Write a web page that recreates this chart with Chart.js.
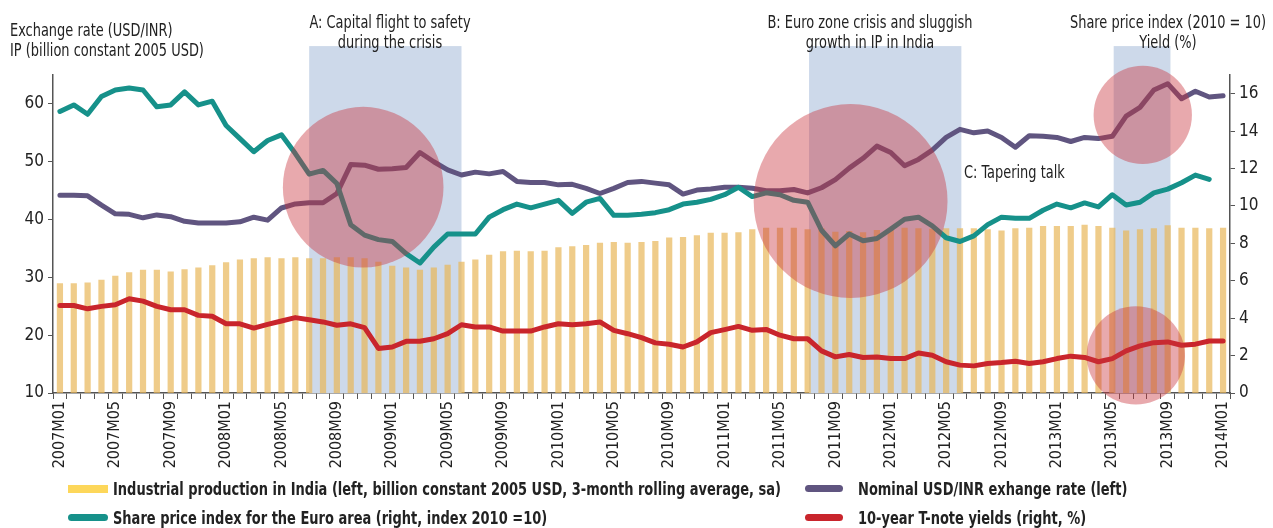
<!DOCTYPE html>
<html>
<head>
<meta charset="utf-8">
<script src="https://cdn.jsdelivr.net/npm/chart.js@4.4.1/dist/chart.umd.min.js"></script>
<style>
  body { margin: 0; background: #fff; }
  #wrap { position: relative; width: 1273px; height: 528px; }
  .txt { position: absolute; font-family: "DejaVu Sans Condensed", "Liberation Sans Narrow", sans-serif; font-size: 18px; color: #222; line-height: 20px; white-space: nowrap; transform: scaleX(0.8); transform-origin: left top; }
  .ctr { text-align: center; transform-origin: center top; }
  .leg { position: absolute; font-family: "DejaVu Sans Condensed", "Liberation Sans Narrow", sans-serif; font-size: 17px; font-weight: bold; color: #222; white-space: nowrap; line-height: 20px; transform: scaleX(0.85); transform-origin: left top; }
  .sw { position: absolute; height: 7px; border-radius: 4px; }
</style>
</head>
<body>
<div id="wrap">
  <canvas id="chart"></canvas>
  <div class="txt" style="left:10px;top:20px;">Exchange rate (USD/INR)<br>IP (billion constant 2005 USD)</div>
  <div class="txt ctr" style="left:270px;top:12px;width:240px;">A: Capital flight to safety<br>during the crisis</div>
  <div class="txt ctr" style="left:735px;top:12px;width:270px;">B: Euro zone crisis and sluggish<br>growth in IP in India</div>
  <div class="txt" style="left:964px;top:162px;">C: Tapering talk</div>
  <div class="txt ctr" style="left:1038px;top:12px;width:260px;">Share price index (2010 = 10)<br>Yield (%)</div>

  <div class="sw" style="left:68px;top:485px;width:40px;background:#FDD75A;border-radius:0;height:8px;"></div>
  <div class="leg" style="left:113px;top:479px;">Industrial production in India (left, billion constant 2005 USD, 3-month rolling average, sa)</div>
  <div class="sw" style="left:68px;top:514px;width:40px;background:#16918A;"></div>
  <div class="leg" style="left:113px;top:508px;">Share price index for the Euro area (right, index 2010 =10)</div>
  <div class="sw" style="left:805px;top:485px;width:38px;background:#605580;"></div>
  <div class="leg" style="left:858px;top:479px;">Nominal USD/INR exhange rate (left)</div>
  <div class="sw" style="left:805px;top:514px;width:38px;background:#C9252C;"></div>
  <div class="leg" style="left:858px;top:508px;">10-year T-note yields (right, %)</div>
</div>
<script>
"use strict";
const FONT = '"DejaVu Sans Condensed", "Liberation Sans Narrow", sans-serif';

// months 2007M01 .. 2014M01
const months = [];
for (let y = 2007; y <= 2014; y++) {
  for (let m = 1; m <= 12; m++) {
    if (y === 2014 && m > 1) break;
    months.push(y + "M" + (m < 10 ? "0" + m : m));
  }
}

const leftTicks = [10, 20, 30, 40, 50, 60];
const rightTicks = [0, 2, 4, 6, 8, 10, 12, 14, 16];

// Industrial production in India (left)
const ipIndia = [29.0, 29.0, 29.1, 29.6, 30.3, 30.9, 31.3, 31.3, 31.0, 31.4,
  31.7, 32.1, 32.6, 33.1, 33.3, 33.5, 33.3, 33.5, 33.3, 33.3,
  33.5, 33.5, 33.3, 32.7, 32.0, 31.7, 31.3, 31.7, 32.2, 32.7,
  33.1, 33.9, 34.5, 34.6, 34.5, 34.6, 35.2, 35.4, 35.6, 36.0,
  36.1, 36.0, 36.1, 36.3, 36.9, 37.0, 37.3, 37.7, 37.7, 37.8,
  38.3, 38.6, 38.6, 38.6, 38.3, 38.5, 37.9, 38.0, 37.8, 38.2,
  38.5, 38.6, 38.5, 38.4, 38.5, 38.5, 38.5, 38.3, 38.1, 38.5,
  38.6, 38.9, 38.9, 38.9, 39.1, 38.9, 38.6, 38.1, 38.3, 38.5,
  39.0, 38.6, 38.6, 38.5, 38.6];

// Nominal USD/INR (left)
const usdInr = [44.2, 44.2, 44.1, 42.5, 41.0, 40.9, 40.3, 40.8, 40.5, 39.7,
  39.4, 39.4, 39.4, 39.6, 40.4, 39.9, 42.0, 42.7, 42.9, 42.9,
  44.5, 49.5, 49.4, 48.7, 48.8, 49.0, 51.6, 50.0, 48.6, 47.7,
  48.2, 47.9, 48.3, 46.6, 46.4, 46.4, 46.0, 46.1, 45.4, 44.5,
  45.4, 46.4, 46.6, 46.3, 46.0, 44.4, 45.1, 45.3, 45.6, 45.6,
  45.4, 45.0, 45.0, 45.2, 44.6, 45.5, 46.9, 48.9, 50.6, 52.7,
  51.6, 49.3, 50.4, 52.0, 54.2, 55.6, 55.0, 55.3, 54.2, 52.5,
  54.5, 54.4, 54.2, 53.5, 54.2, 54.0, 54.4, 57.9, 59.4, 62.4,
  63.5, 60.9, 62.2, 61.2, 61.4];

// Euro area share price index (right)
const sharePrice = [15.05, 15.4, 14.9, 15.85, 16.2, 16.3, 16.2, 15.3, 15.4, 16.1,
  15.4, 15.6, 14.3, 13.6, 12.9, 13.5, 13.8, 12.8, 11.7, 11.9,
  11.2, 9.0, 8.44, 8.2, 8.1, 7.45, 6.95, 7.8, 8.5, 8.5,
  8.5, 9.4, 9.8, 10.1, 9.9, 10.1, 10.3, 9.6, 10.2, 10.4,
  9.5, 9.5, 9.56, 9.64, 9.8, 10.1, 10.2, 10.35, 10.6, 11.0,
  10.5, 10.7, 10.6, 10.3, 10.2, 8.7, 7.87, 8.5, 8.14, 8.26,
  8.76, 9.29, 9.4, 8.94, 8.3, 8.1, 8.4, 9.0, 9.4, 9.34,
  9.34, 9.77, 10.1, 9.9, 10.16, 9.95, 10.6, 10.05, 10.2, 10.7,
  10.9, 11.24, 11.65, 11.42, null];

// 10-year T-note yields (right)
const tnoteYield = [4.68, 4.68, 4.5, 4.63, 4.72, 5.04, 4.91, 4.63, 4.45, 4.45,
  4.15, 4.1, 3.7, 3.7, 3.47, 3.67, 3.85, 4.03, 3.92, 3.8,
  3.62, 3.7, 3.49, 2.38, 2.46, 2.76, 2.77, 2.9, 3.17, 3.65,
  3.53, 3.53, 3.31, 3.31, 3.31, 3.53, 3.7, 3.65, 3.7, 3.8,
  3.35, 3.17, 2.96, 2.68, 2.61, 2.46, 2.73, 3.23, 3.39, 3.56,
  3.35, 3.4, 3.09, 2.9, 2.9, 2.25, 1.93, 2.06, 1.9, 1.93,
  1.84, 1.84, 2.14, 2.02, 1.67, 1.49, 1.45, 1.58, 1.63, 1.7,
  1.58, 1.67, 1.84, 1.97, 1.9, 1.67, 1.84, 2.25, 2.52, 2.69,
  2.73, 2.55, 2.61, 2.78, 2.78];

// shaded episodes (month index) and highlight circles (month index, left value, radius in months)
const bandFrom = [18, 54.1, 76.1];
const bandTo = [29, 65.1, 80.2];
const bandTopValue = 70;
const circleX = [21.9, 57.1, 78.2, 77.7];
const circleY = [45.6, 43.2, 58.1, 16.5];
const circleR = [5.8, 7.0, 3.55, 3.55];

const shading = {
  id: "shading",
  beforeDatasetsDraw(chart) {
    const { ctx, scales: { x, y } } = chart;
    ctx.save();
    ctx.fillStyle = "#CDD9EA";
    const top = y.getPixelForValue(bandTopValue);
    for (let i = 0; i < bandFrom.length; i++) {
      const x0 = x.getPixelForValue(bandFrom[i]);
      const x1 = x.getPixelForValue(bandTo[i]);
      ctx.fillRect(x0, top, x1 - x0, y.bottom - top);
    }
    ctx.restore();
  },
  afterDatasetsDraw(chart) {
    const { ctx, scales: { x, y } } = chart;
    const step = x.getPixelForValue(1) - x.getPixelForValue(0);
    ctx.save();
    ctx.fillStyle = "rgba(200,50,60,0.42)";
    for (let i = 0; i < circleX.length; i++) {
      ctx.beginPath();
      ctx.arc(x.getPixelForValue(circleX[i]), y.getPixelForValue(circleY[i]), circleR[i] * step, 0, Math.PI * 2);
      ctx.fill();
    }
    ctx.restore();
  },
};

const lineDs = (data, color, axis, order) => ({
  type: "line",
  data,
  yAxisID: axis,
  borderColor: color,
  backgroundColor: color,
  borderWidth: 5,
  pointRadius: 0,
  tension: 0,
  borderJoinStyle: "round",
  borderCapStyle: "round",
  order,
});

const axisColor = "#555";
const tickFont = { family: FONT, size: 17 };

new Chart(document.getElementById("chart"), {
  type: "bar",
  data: {
    labels: months,
    datasets: [
      lineDs(sharePrice, "#16918A", "y1", 1),
      lineDs(tnoteYield, "#C9252C", "y1", 2),
      lineDs(usdInr, "#605580", "y", 3),
      {
        type: "bar",
        data: ipIndia,
        yAxisID: "y",
        backgroundColor: "rgba(232,182,89,0.7)",
        barPercentage: 0.45,
        categoryPercentage: 1,
        order: 4,
      },
    ],
  },
  options: {
    responsive: true,
    maintainAspectRatio: false,
    animation: false,
    layout: { padding: { top: 75, bottom: 55, left: 0, right: 0 } },
    plugins: { legend: { display: false }, tooltip: { enabled: false } },
    scales: {
      x: {
        afterFit: (s) => { s.height = 80; },
        grid: { drawOnChartArea: false, color: axisColor, tickLength: 6 },
        border: { color: axisColor, width: 1.5 },
        ticks: {
          autoSkip: false,
          minRotation: 90,
          maxRotation: 90,
          padding: 2,
          color: "#222",
          font: { family: FONT, size: 16 },
          callback: (v, i) => (i % 4 === 0 ? months[i] : ""),
        },
      },
      y: {
        position: "left",
        min: 10,
        max: 65,
        afterFit: (s) => { s.width = 53; },
        afterBuildTicks: (s) => { s.ticks = leftTicks.map((v) => ({ value: v })); },
        grid: { drawOnChartArea: false, color: axisColor, tickLength: 5 },
        border: { color: axisColor, width: 1.5 },
        ticks: { color: "#222", font: tickFont, padding: 4 },
      },
      y1: {
        position: "right",
        min: 0,
        max: 17,
        afterFit: (s) => { s.width = 43; },
        afterBuildTicks: (s) => { s.ticks = rightTicks.map((v) => ({ value: v })); },
        grid: { drawOnChartArea: false, color: axisColor, tickLength: 5 },
        border: { color: axisColor, width: 1.5 },
        ticks: { color: "#222", font: tickFont, padding: 4 },
      },
    },
  },
  plugins: [shading],
});
</script>
</body>
</html>
